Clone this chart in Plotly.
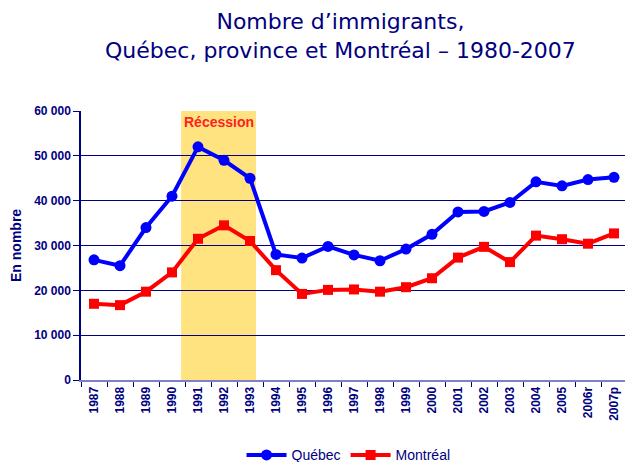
import plotly.graph_objects as go

years = ["1987", "1988", "1989", "1990", "1991", "1992", "1993", "1994", "1995", "1996",
         "1997", "1998", "1999", "2000", "2001", "2002", "2003", "2004", "2005", "2006r", "2007p"]
quebec = [26800, 25500, 34000, 41000, 52000, 49000, 45000, 28000, 27200, 29800,
          27900, 26600, 29200, 32500, 37500, 37600, 39600, 44200, 43300, 44700, 45200]
montreal = [17000, 16700, 19700, 24000, 31500, 34500, 31000, 24500, 19200, 20100,
            20200, 19700, 20700, 22700, 27300, 29700, 26300, 32200, 31400, 30400, 32700]
y_ticks = [0, 10000, 20000, 30000, 40000, 50000, 60000]
y_tick_labels = ["0", "10 000", "20 000", "30 000", "40 000", "50 000", "60 000"]
recession_label = "Récession"
recession_span = (3.35, 6.23)  # category index positions
title_text = "Nombre d’immigrants,<br>Québec, province et Montréal – 1980-2007"
y_title = "En nombre"

navy = "#000080"
narrow = "Liberation Sans Narrow, Arial Narrow, Liberation Sans, Arial"
tick_font = dict(family=narrow, size=12, color=navy, weight="bold")

fig = go.Figure()
fig.add_shape(type="rect", xref="x", yref="paper", x0=recession_span[0], x1=recession_span[1],
              y0=0, y1=1, fillcolor="#FFE380", line=dict(width=0), layer="below")
fig.add_trace(go.Scatter(x=years, y=quebec, name="Québec", mode="lines+markers",
                         line=dict(color="#0000FF", width=4),
                         marker=dict(symbol="circle", size=11, color="#0000FF")))
fig.add_trace(go.Scatter(x=years, y=montreal, name="Montréal", mode="lines+markers",
                         line=dict(color="#FF0000", width=4),
                         marker=dict(symbol="square", size=10, color="#FF0000")))
fig.add_annotation(x=(recession_span[0] + recession_span[1]) / 2, y=1, xref="x", yref="paper",
                   text=recession_label, showarrow=False, yanchor="top", yshift=-1,
                   font=dict(family=narrow, size=14, color="#FF2020", weight="bold"))
fig.add_annotation(x=0.475, y=1.17, xref="paper", yref="paper", xanchor="center", yanchor="bottom",
                   text=title_text, showarrow=False,
                   font=dict(family="DejaVu Sans, Verdana", size=22, color=navy))
fig.add_annotation(x=-0.12, y=0.5, xref="paper", yref="paper", xanchor="center", yanchor="middle",
                   text=y_title, textangle=-90, showarrow=False,
                   font=dict(family="Liberation Sans, Arial", size=14, color=navy, weight="bold"))

fig.update_layout(
    width=625, height=454,
    margin=dict(l=73, r=6, t=103, b=82, autoexpand=False),
    paper_bgcolor="white", plot_bgcolor="white",
    legend=dict(orientation="h", x=0.49, xanchor="center", y=-0.28, yanchor="middle",
                font=dict(family=narrow, size=14, color=navy),
                itemwidth=40, traceorder="normal"),
    showlegend=True,
)
fig.update_xaxes(type="category", tickangle=-90, tickfont=tick_font, automargin=False,
                 showgrid=False, showline=True, linecolor="#8080C8", linewidth=2,
                 ticks="outside", tickcolor=navy, ticklen=5, tickson="boundaries",
                 range=[-0.5, len(years) - 0.5])
fig.update_yaxes(range=[0, 60000], tickvals=y_ticks, ticktext=y_tick_labels, automargin=False,
                 tickfont=tick_font, showgrid=True, gridcolor=navy, gridwidth=1,
                 showline=True, linecolor=navy, linewidth=1.5, ticks="outside", tickcolor=navy, ticklen=6,
                 zeroline=False)
fig.write_html("out.html")
